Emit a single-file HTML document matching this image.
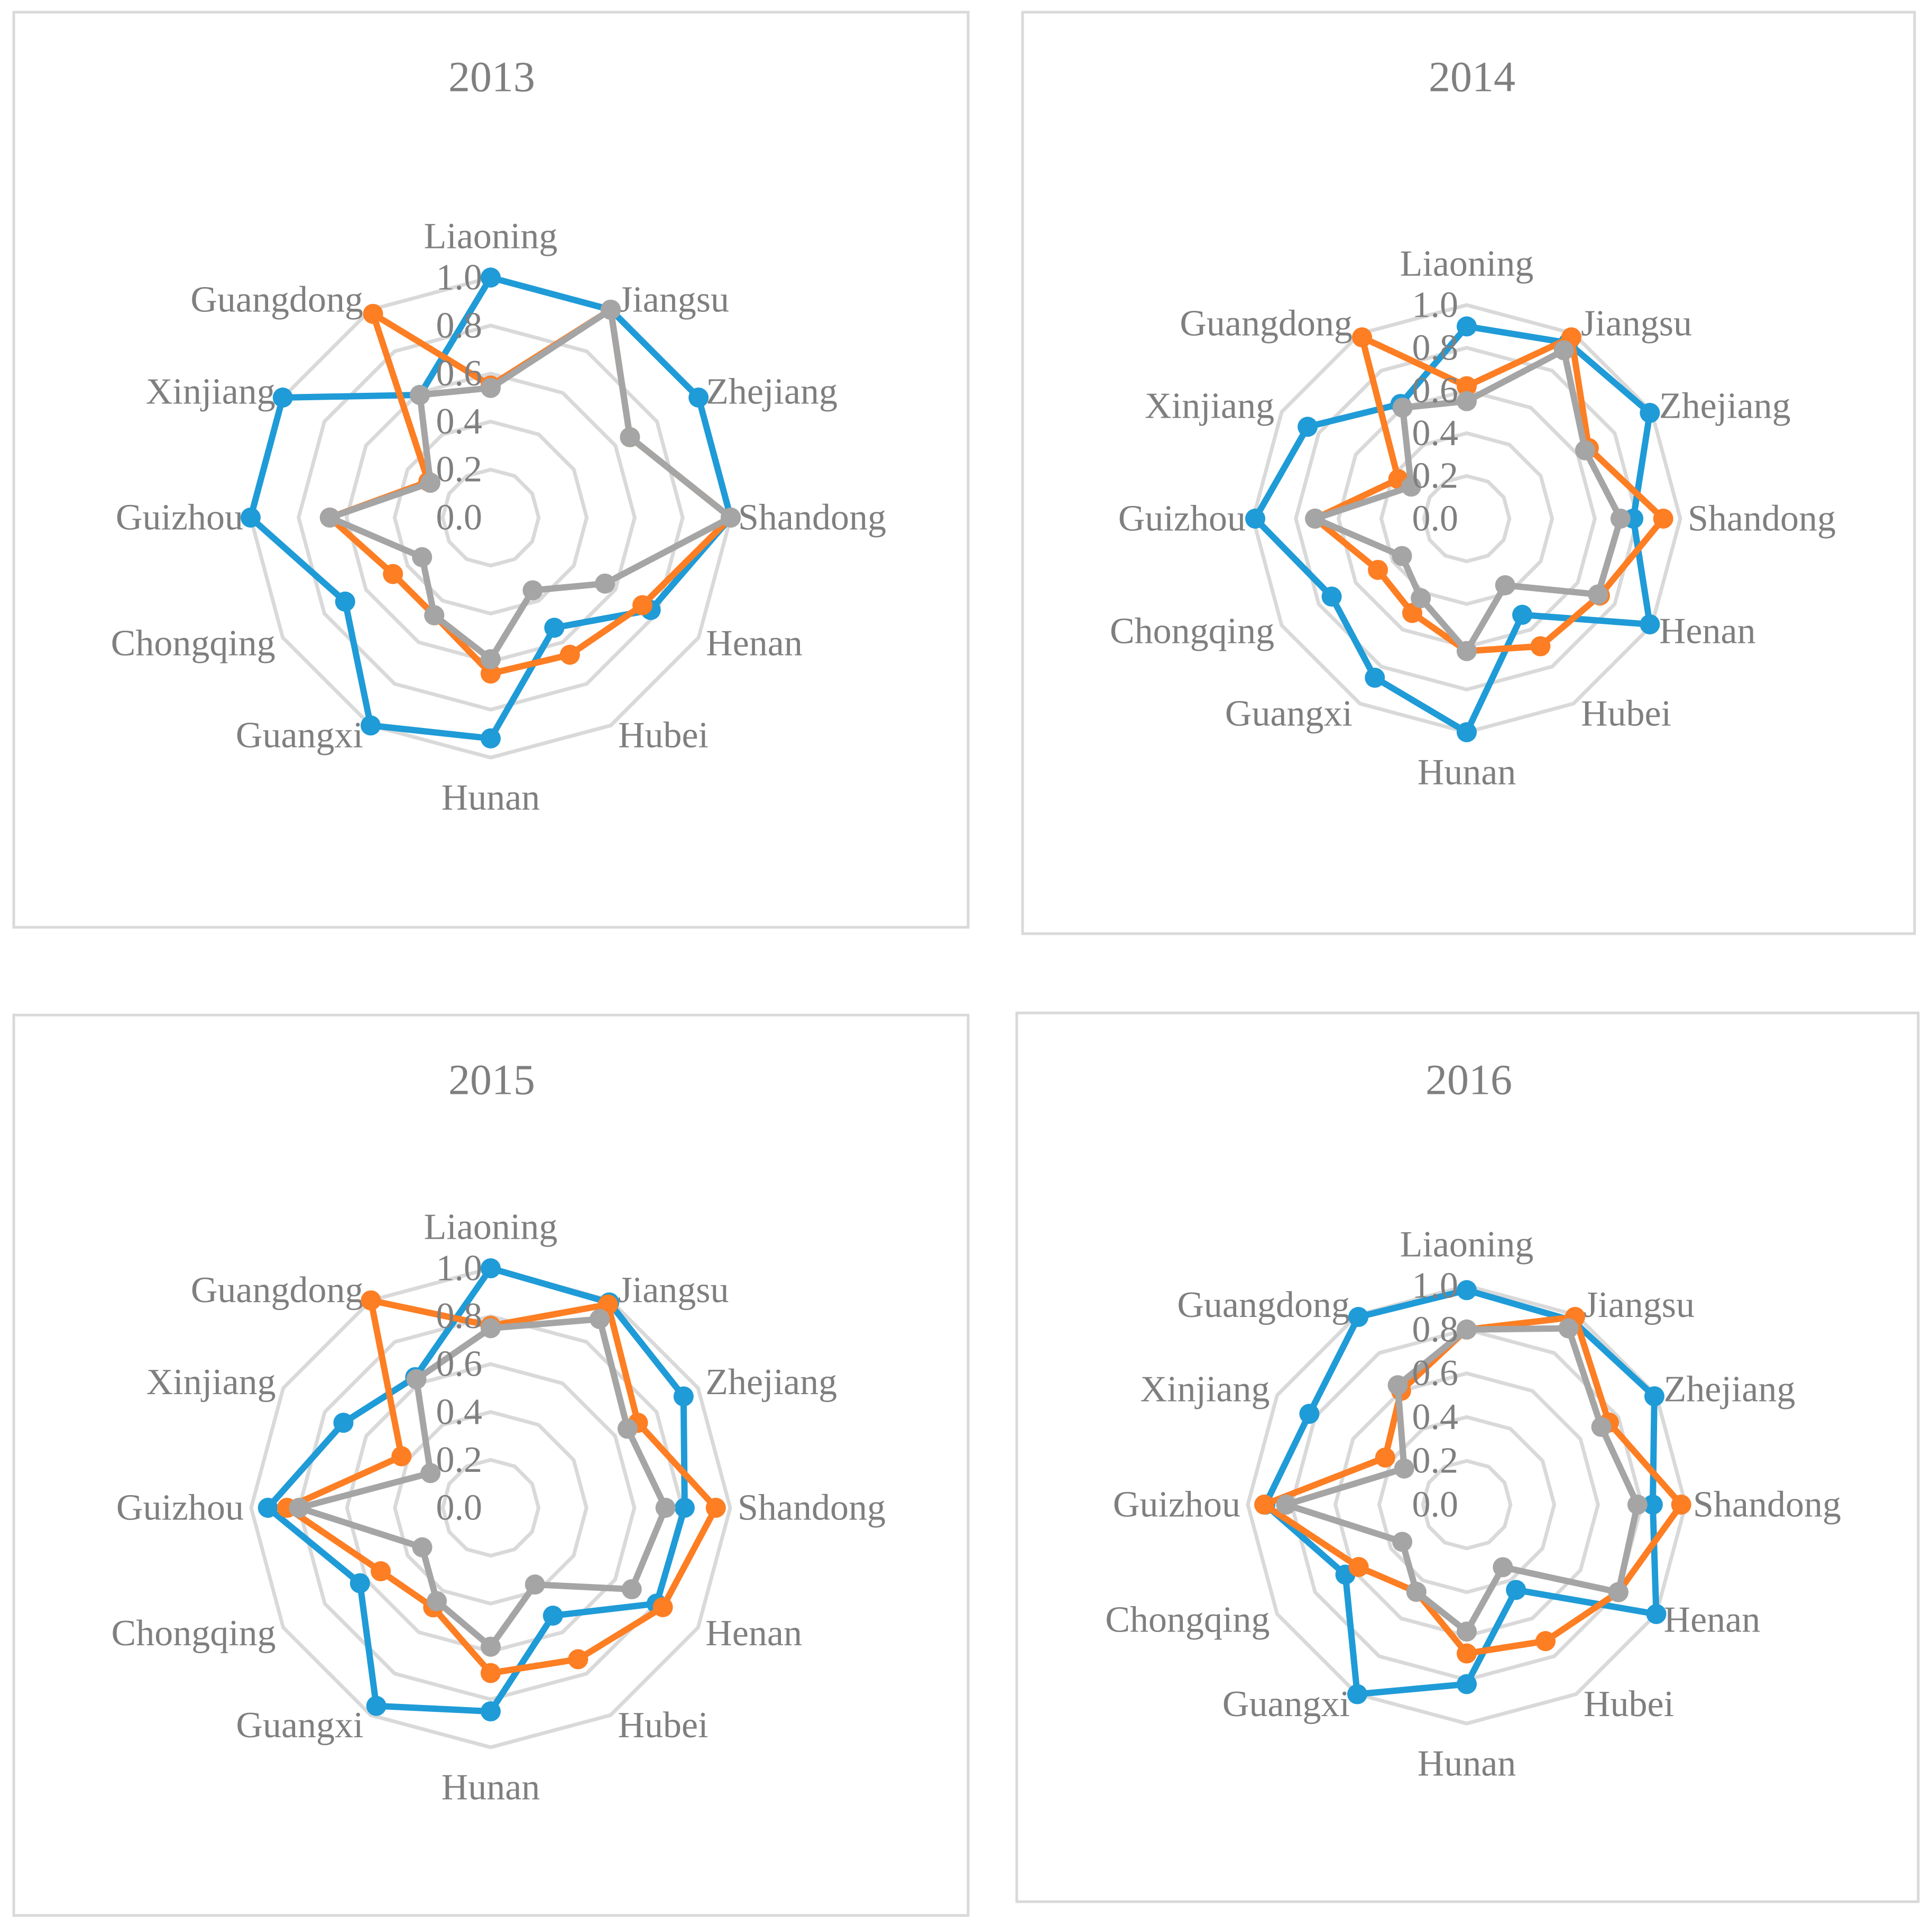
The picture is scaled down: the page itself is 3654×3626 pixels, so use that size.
<!DOCTYPE html>
<html><head><meta charset="utf-8"><title>Radar charts 2013-2016</title>
<style>
html,body{margin:0;padding:0;background:#fff;}
svg{display:block;}
text{font-family:"Liberation Serif",serif;fill:#7f7f7f;}
</style></head>
<body>
<svg id="chart" xmlns="http://www.w3.org/2000/svg" width="3654" height="3626" viewBox="0 0 3654 3626"></svg>
<script>
const categories = ['Liaoning','Jiangsu','Zhejiang','Shandong','Henan','Hubei','Hunan','Guangxi','Chongqing','Guizhou','Xinjiang','Guangdong'];
const years = ['2013','2014','2015','2016'];
const tickLabels = ['0.0','0.2','0.4','0.6','0.8','1.0'];
const tickValues = [0,0.2,0.4,0.6,0.8,1.0];
const blue2013 = [1.0,1.0,1.0,1.0,0.77,0.53,0.92,1.0,0.70,1.0,1.0,0.59];
const orange2013 = [0.55,1.0,0.67,1.0,0.73,0.66,0.65,0.47,0.47,0.67,0.30,0.98];
const gray2013 = [0.54,1.0,0.67,1.0,0.55,0.35,0.59,0.47,0.33,0.67,0.29,0.59];
const blue2014 = [0.90,0.95,0.99,0.78,0.99,0.52,1.0,0.86,0.73,0.99,0.86,0.62];
const orange2014 = [0.62,0.98,0.66,0.92,0.72,0.69,0.62,0.51,0.48,0.71,0.37,0.98];
const gray2014 = [0.55,0.91,0.64,0.72,0.71,0.36,0.62,0.43,0.35,0.71,0.30,0.60];
const blue2015 = [1.0,0.99,0.93,0.81,0.80,0.52,0.85,0.955,0.63,0.93,0.71,0.63];
const orange2015 = [0.76,0.98,0.71,0.94,0.83,0.73,0.69,0.48,0.53,0.85,0.43,1.0];
const gray2015 = [0.75,0.91,0.66,0.73,0.68,0.37,0.58,0.45,0.33,0.80,0.29,0.62];
const blue2016 = [0.98,0.97,0.99,0.85,1.0,0.45,0.82,1.0,0.64,0.92,0.83,0.99];
const orange2016 = [0.80,0.99,0.75,0.98,0.80,0.72,0.68,0.46,0.57,0.925,0.43,0.60];
const gray2016 = [0.80,0.93,0.71,0.78,0.80,0.33,0.58,0.46,0.34,0.825,0.33,0.63];

const NS = 'http://www.w3.org/2000/svg';
const svg = document.getElementById('chart');
const panels = [
  {box:[26,23,1805,1731], cx:928, cy:979, R:454, title:[930,145], series:[blue2013,orange2013,gray2013]},
  {box:[1934,23,1687,1743], cx:2774, cy:981, R:404, title:[2784,145], series:[blue2014,orange2014,gray2014]},
  {box:[26,1920,1805,1703], cx:928, cy:2852, R:453, title:[930,2042], series:[blue2015,orange2015,gray2015]},
  {box:[1923,1916,1705,1681], cx:2774, cy:2846, R:414, title:[2778,2042], series:[blue2016,orange2016,gray2016]}
];
const colors = ['#1f9bd7','#fd7e23','#a5a5a5'];
const seriesNames = ['blue','orange','gray'];

function mk(tag, attrs, parent){
  const e = document.createElementNS(NS, tag);
  for (const k in attrs) e.setAttribute(k, attrs[k]);
  parent.appendChild(e);
  return e;
}
function angle(i){ return i * 2 * Math.PI / categories.length; }
function px(p, i, v){ return p.cx + Math.sin(angle(i)) * v * p.R; }
function py(p, i, v){ return p.cy - Math.cos(angle(i)) * v * p.R; }

panels.forEach((p, pi) => {
  const g = mk('g', {}, svg);
  
  
  const box = mk('rect', {x:p.box[0], y:p.box[1], width:p.box[2], height:p.box[3], fill:'#fff', stroke:'#d9d9d9', 'stroke-width':5}, g);
  
  
  const t = mk('text', {x:p.title[0], y:p.title[1], 'font-size':82, 'text-anchor':'middle', 'dominant-baseline':'central'}, g);
  t.textContent = years[pi];
  
  
  tickValues.slice(1).forEach(v => {
    const pts = categories.map((c, i) => px(p, i, v).toFixed(1) + ',' + py(p, i, v).toFixed(1)).join(' ');
    const gl = mk('polygon', {points:pts, fill:'none', stroke:'#d9d9d9', 'stroke-width':7}, g);
    
    
  });
  const fs = 70;
  categories.forEach((c, i) => {
    const s = Math.sin(angle(i)), co = Math.cos(angle(i));
    let x = px(p, i, 1), y = py(p, i, 1);
    let anchor = 'middle';
    if (Math.abs(s) < 0.01) { y += co > 0 ? -78 : 76; }
    else { anchor = s > 0 ? 'start' : 'end'; x += s > 0 ? 14 : -14; y += -22 * co; }
    const lab = mk('text', {x:x, y:y, 'font-size':fs, 'text-anchor':anchor, 'dominant-baseline':'central'}, g);
    lab.textContent = c;
    
    
  });
  p.series.forEach((vals, si) => {
    const sg = mk('g', {}, g);
    
    
    const pts = vals.map((v, i) => px(p, i, v).toFixed(1) + ',' + py(p, i, v).toFixed(1)).join(' ');
    const pl = mk('polygon', {points:pts, fill:'none', stroke:colors[si], 'stroke-width':12, 'stroke-linejoin':'round'}, sg);
    
    
    vals.forEach((v, i) => {
      const m = mk('circle', {cx:px(p, i, v), cy:py(p, i, v), r:19, fill:colors[si]}, sg);
      
      
    });
  });
  tickValues.forEach((v, k) => {
    const tl = mk('text', {x:p.cx - 16, y:p.cy - v * p.R, 'font-size':fs, 'text-anchor':'end', 'dominant-baseline':'central'}, g);
    tl.textContent = tickLabels[k];
    
    
  });
});
</script>
</body></html>
